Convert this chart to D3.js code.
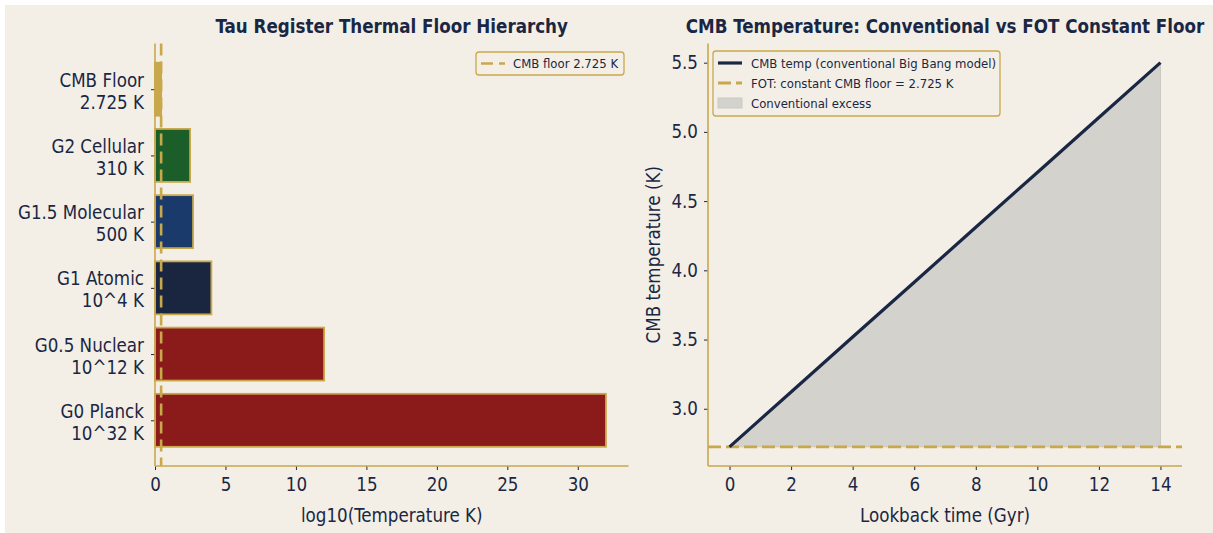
<!DOCTYPE html>
<html>
<head>
<meta charset="utf-8">
<script src="https://cdn.jsdelivr.net/npm/d3@7"></script>
<style>
  html, body { margin: 0; padding: 0; background: #ffffff; }
  svg text { font-family: "DejaVu Sans Condensed", "DejaVu Sans", sans-serif; font-stretch: condensed; }
</style>
</head>
<body>
<svg id="chart" width="1213" height="533"></svg>
<script>
// ---------- data ----------
const tierNames = ["G0 Planck", "G0.5 Nuclear", "G1 Atomic", "G1.5 Molecular", "G2 Cellular", "CMB Floor"];
const tierTempLabels = ["10^32 K", "10^12 K", "10^4 K", "500 K", "310 K", "2.725 K"];
const tierLog10 = [32, 12, 4, 2.699, 2.491, 0.435];
const tierColors = ["#8b1a1a", "#8b1a1a", "#1a2540", "#1a3a6b", "#1b5e2a", "#c9a84c"];
const cmbFloorK = 2.725;
const xTicksLeft = [0, 5, 10, 15, 20, 25, 30];

const lookbackGyr = [0, 2, 4, 6, 8, 10, 12, 14];
const cmbTempConv = [2.725, 3.121, 3.518, 3.914, 4.311, 4.707, 5.104, 5.5];
const xTicksRight = [0, 2, 4, 6, 8, 10, 12, 14];
const yTicksRight = [3.0, 3.5, 4.0, 4.5, 5.0, 5.5];

// ---------- style ----------
const BG = "#f4efe6", GOLD = "#c9a84c", NAVY = "#1a2744", FILLG = "#d3d2cd";
const FS = 18.6, FS_T = 18.6, FS_LEG = 13;
const svg = d3.select("#chart");
svg.append("rect").attr("x", 5).attr("y", 5).attr("width", 1208).attr("height", 528).attr("fill", BG);

const axTop = 43.5, axBottom = 466;

// ================= LEFT PANEL =================
const L = { x0: 155, x1: 628.5 };
const xL = d3.scaleLinear().domain([0, 33.6]).range([L.x0, L.x1]);
const yL = d3.scaleLinear().domain([-0.69, 5.69]).range([axBottom, axTop]);
const gL = svg.append("g");

gL.selectAll("rect.bar").data(tierNames).join("rect")
  .attr("class", "bar")
  .attr("x", xL(0))
  .attr("y", (d, i) => yL(i + 0.4))
  .attr("width", (d, i) => xL(tierLog10[i]) - xL(0))
  .attr("height", (d, i) => yL(i - 0.4) - yL(i + 0.4))
  .attr("fill", (d, i) => tierColors[i])
  .attr("stroke", GOLD).attr("stroke-width", 1.8);

// vertical floor line
gL.append("line")
  .attr("x1", xL(Math.log10(cmbFloorK))).attr("x2", xL(Math.log10(cmbFloorK)))
  .attr("y1", axTop).attr("y2", axBottom)
  .attr("stroke", GOLD).attr("stroke-width", 2.6).attr("stroke-dasharray", "12,6");

// axes
const xAxisL = d3.axisBottom(xL).tickValues(xTicksLeft).tickSize(4).tickPadding(4).tickFormat(d3.format("d"));
const gxL = gL.append("g").attr("transform", `translate(0,${axBottom})`).call(xAxisL);
const yAxisL = d3.axisLeft(yL).tickValues(d3.range(tierNames.length)).tickSize(4).tickPadding(6).tickFormat("");
const gyL = gL.append("g").attr("transform", `translate(${L.x0},0)`).call(yAxisL);

[gxL, gyL].forEach(g => {
  g.select(".domain").remove();
  g.selectAll(".tick line").attr("stroke", NAVY).attr("stroke-width", 1);
  g.selectAll(".tick text").attr("fill", NAVY).attr("font-size", FS);
});
gxL.selectAll(".tick text").attr("dy", "0.92em");

// two-line y tick labels
gyL.selectAll(".tick").each(function(d, i) {
  const t = d3.select(this).append("text")
    .attr("fill", NAVY).attr("font-size", FS).attr("text-anchor", "end")
    .attr("x", -11);
  t.append("tspan").attr("x", -11).attr("y", -3).text(tierNames[d]);
  t.append("tspan").attr("x", -11).attr("y", 19).text(tierTempLabels[d]);
});

// spines
gL.append("line").attr("x1", L.x0).attr("x2", L.x0).attr("y1", axTop).attr("y2", axBottom).attr("stroke", GOLD).attr("stroke-width", 1.6);
gL.append("line").attr("x1", L.x0).attr("x2", L.x1).attr("y1", axBottom).attr("y2", axBottom).attr("stroke", GOLD).attr("stroke-width", 1.6);

// title and label
gL.append("text").attr("x", (L.x0 + L.x1) / 2).attr("y", 33).attr("text-anchor", "middle")
  .attr("font-size", FS_T).attr("font-weight", "bold").attr("fill", NAVY)
  .text("Tau Register Thermal Floor Hierarchy");
gL.append("text").attr("x", (L.x0 + L.x1) / 2).attr("y", 522).attr("text-anchor", "middle")
  .attr("font-size", FS).attr("fill", NAVY).text("log10(Temperature K)");

// legend
const lgL = gL.append("g");
lgL.append("rect").attr("x", 476).attr("y", 52).attr("width", 148).attr("height", 23).attr("rx", 3)
  .attr("fill", BG).attr("stroke", GOLD).attr("stroke-width", 1.3);
lgL.append("line").attr("x1", 481).attr("x2", 505).attr("y1", 63.5).attr("y2", 63.5)
  .attr("stroke", GOLD).attr("stroke-width", 2.6).attr("stroke-dasharray", "12,6");
lgL.append("text").attr("x", 513).attr("y", 68).attr("font-size", FS_LEG).attr("fill", NAVY).text("CMB floor 2.725 K");

// ================= RIGHT PANEL =================
const R = { x0: 708, x1: 1182 };
const xR = d3.scaleLinear().domain([-0.7, 14.7]).range([R.x0, R.x1]);
const yR = d3.scaleLinear().domain([2.5865, 5.6385]).range([axBottom, axTop]);
const gR = svg.append("g");

const area = d3.area().x((d, i) => xR(lookbackGyr[i])).y0(yR(cmbFloorK)).y1((d) => yR(d));
gR.append("path").datum(cmbTempConv).attr("d", area)
  .attr("fill", FILLG).attr("stroke", "#c9c8c3").attr("stroke-width", 1);

gR.append("line").attr("x1", R.x0).attr("x2", R.x1).attr("y1", yR(cmbFloorK)).attr("y2", yR(cmbFloorK))
  .attr("stroke", GOLD).attr("stroke-width", 2.8).attr("stroke-dasharray", "13,5");

const line = d3.line().x((d, i) => xR(lookbackGyr[i])).y(d => yR(d));
gR.append("path").datum(cmbTempConv).attr("d", line)
  .attr("fill", "none").attr("stroke", NAVY).attr("stroke-width", 3.2);

const gxR = gR.append("g").attr("transform", `translate(0,${axBottom})`)
  .call(d3.axisBottom(xR).tickValues(xTicksRight).tickSize(4).tickPadding(4).tickFormat(d3.format("d")));
const gyR = gR.append("g").attr("transform", `translate(${R.x0},0)`)
  .call(d3.axisLeft(yR).tickValues(yTicksRight).tickSize(4).tickPadding(6).tickFormat(d3.format(".1f")));
[gxR, gyR].forEach(g => {
  g.select(".domain").remove();
  g.selectAll(".tick line").attr("stroke", NAVY).attr("stroke-width", 1);
  g.selectAll(".tick text").attr("fill", NAVY).attr("font-size", FS);
});
gxR.selectAll(".tick text").attr("dy", "0.92em");

gR.append("line").attr("x1", R.x0).attr("x2", R.x0).attr("y1", axTop).attr("y2", axBottom).attr("stroke", GOLD).attr("stroke-width", 1.6);
gR.append("line").attr("x1", R.x0).attr("x2", R.x1).attr("y1", axBottom).attr("y2", axBottom).attr("stroke", GOLD).attr("stroke-width", 1.6);

gR.append("text").attr("x", (R.x0 + R.x1) / 2).attr("y", 33).attr("text-anchor", "middle")
  .attr("font-size", FS_T).attr("font-weight", "bold").attr("fill", NAVY)
  .text("CMB Temperature: Conventional vs FOT Constant Floor");
gR.append("text").attr("x", (R.x0 + R.x1) / 2).attr("y", 522).attr("text-anchor", "middle")
  .attr("font-size", FS).attr("fill", NAVY).text("Lookback time (Gyr)");
gR.append("text").attr("transform", `translate(660,${(axTop + axBottom) / 2}) rotate(-90)`).attr("text-anchor", "middle")
  .attr("font-size", FS).attr("fill", NAVY).text("CMB temperature (K)");

// legend
const lgR = gR.append("g");
lgR.append("rect").attr("x", 713).attr("y", 51).attr("width", 287).attr("height", 65).attr("rx", 3)
  .attr("fill", BG).attr("stroke", GOLD).attr("stroke-width", 1.3);
const legItems = ["CMB temp (conventional Big Bang model)", "FOT: constant CMB floor = 2.725 K", "Conventional excess"];
legItems.forEach((lab, i) => {
  const yy = 63 + i * 20;
  if (i === 0) lgR.append("line").attr("x1", 718).attr("x2", 742).attr("y1", yy).attr("y2", yy).attr("stroke", NAVY).attr("stroke-width", 3.2);
  if (i === 1) lgR.append("line").attr("x1", 718).attr("x2", 742).attr("y1", yy).attr("y2", yy).attr("stroke", GOLD).attr("stroke-width", 2.8).attr("stroke-dasharray", "13,5");
  if (i === 2) lgR.append("rect").attr("x", 718).attr("y", yy - 5).attr("width", 24).attr("height", 10).attr("fill", FILLG).attr("stroke", "#c9c8c3");
  lgR.append("text").attr("x", 751).attr("y", yy + 4.5).attr("font-size", FS_LEG).attr("fill", NAVY).text(lab);
});
</script>
</body>
</html>
